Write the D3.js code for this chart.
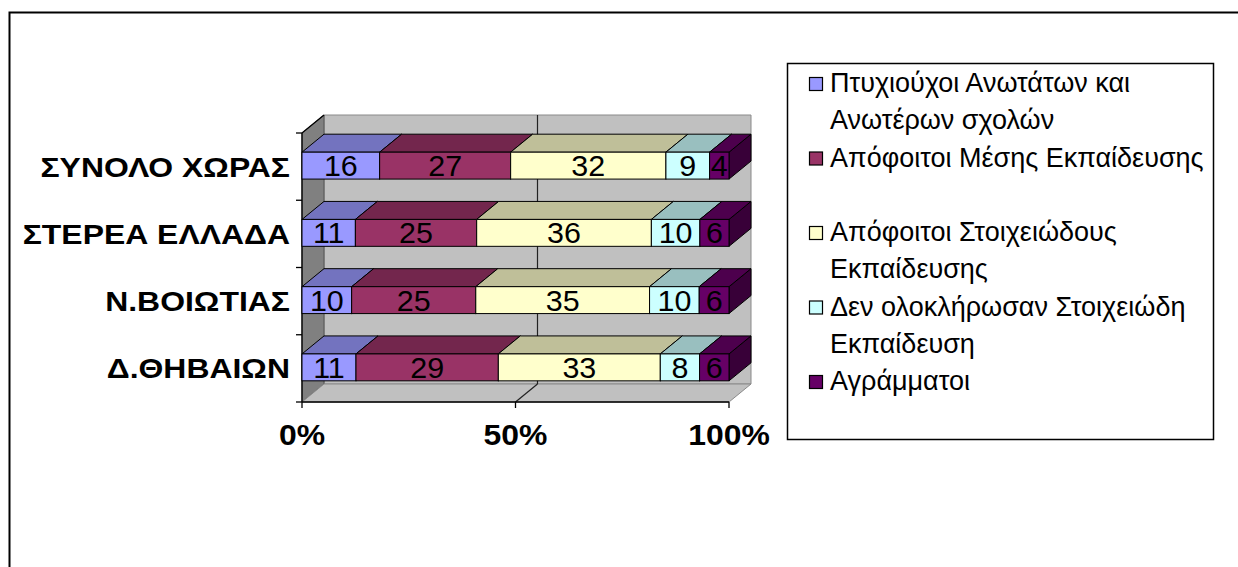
<!DOCTYPE html>
<html>
<head>
<meta charset="utf-8">
<script src="https://cdn.jsdelivr.net/npm/d3@7"></script>
<style>
  body { margin: 0; background: #fff; }
  svg { display: block; }
  text { font-family: Arial, "Liberation Sans", sans-serif; fill: #000; }
</style>
</head>
<body>
<svg id="chart" width="1238" height="567"></svg>
<script>
// data
const categories = ["ΣΥΝΟΛΟ ΧΩΡΑΣ", "ΣΤΕΡΕΑ ΕΛΛΑΔΑ", "Ν.ΒΟΙΩΤΙΑΣ", "Δ.ΘΗΒΑΙΩΝ"];
const seriesNames = [
    "Πτυχιούχοι Ανωτάτων και Ανωτέρων σχολών",
    "Απόφοιτοι Μέσης Εκπαίδευσης",
    "Απόφοιτοι Στοιχειώδους Εκπαίδευσης",
    "Δεν ολοκλήρωσαν Στοιχειώδη Εκπαίδευση",
    "Αγράμματοι"
];
const graduates  = [16, 11, 10, 11];
const secondary  = [27, 25, 25, 29];
const primary    = [32, 36, 35, 33];
const incomplete = [9, 10, 10, 8];
const illiterate = [4, 6, 6, 6];
const xTicks = [0, 0.5, 1];
const xTickLabels = ["0%", "50%", "100%"];

const seriesValues = [graduates, secondary, primary, incomplete, illiterate];
const colors = ["#9999ff", "#993366", "#ffffcc", "#ccffff", "#660066"];

const svg = d3.select("#chart");

// outer frame
svg.append("rect")
    .attr("x", 9.5).attr("y", 12.5)
    .attr("width", 1400).attr("height", 700)
    .attr("fill", "none").attr("stroke", "#000").attr("stroke-width", 2);

// 3d depth offset
const dx = 22, dy = -18;

const x = d3.scaleLinear().domain([0, 1]).range([302, 729]);
const y = d3.scaleBand().domain(categories).range([133, 402])
    .paddingInner(0.6).paddingOuter(0.3);

const [x0, x1] = x.range();
const [y0, y1] = y.range();
const pts = a => a.map(p => p.join(",")).join(" ");

// walls and floor
svg.append("polygon")
    .attr("points", pts([[x0 + dx, y0 + dy], [x1 + dx, y0 + dy], [x1 + dx, y1 + dy], [x0 + dx, y1 + dy]]))
    .attr("fill", "#c0c0c0").attr("stroke", "#8a8a8a");
svg.append("polygon")
    .attr("points", pts([[x0, y0], [x0 + dx, y0 + dy], [x0 + dx, y1 + dy], [x0, y1]]))
    .attr("fill", "#808080").attr("stroke", "#555");
svg.append("polygon")
    .attr("points", pts([[x0, y1], [x1, y1], [x1 + dx, y1 + dy], [x0 + dx, y1 + dy]]))
    .attr("fill", "#c0c0c0").attr("stroke", "#8a8a8a");

// gridlines (inner ticks only)
const grid = svg.append("g").attr("stroke", "#222").attr("stroke-width", 1.2);
xTicks.filter(t => t > 0 && t < 1).forEach(t => {
    grid.append("line")
        .attr("x1", x(t) + dx).attr("x2", x(t) + dx)
        .attr("y1", y0 + dy).attr("y2", y1 + dy);
    grid.append("line")
        .attr("x1", x(t)).attr("x2", x(t) + dx)
        .attr("y1", y1).attr("y2", y1 + dy);
});

// axes
const axes = svg.append("g").attr("stroke", "#000").attr("stroke-width", 1.3);
axes.append("line").attr("x1", x0).attr("x2", x0).attr("y1", y0).attr("y2", y1);
axes.append("line").attr("x1", x0).attr("x2", x0 + dx).attr("y1", y0).attr("y2", y0 + dy);
axes.append("line").attr("x1", x0).attr("x2", x1).attr("y1", y1).attr("y2", y1);
d3.range(categories.length + 1).forEach(i => {
    const yy = y0 + i * (y1 - y0) / categories.length;
    axes.append("line").attr("x1", x0 - 6).attr("x2", x0).attr("y1", yy).attr("y2", yy);
});
xTicks.forEach(t => {
    axes.append("line").attr("x1", x(t)).attr("x2", x(t)).attr("y1", y1).attr("y2", y1 + 6);
});

// stacked 100% bars
const rows = categories.map((c, i) => ({ cat: c, values: seriesValues.map(s => s[i]) }));
const stack = d3.stack()
    .keys(d3.range(seriesValues.length))
    .value((d, k) => d.values[k])
    .offset(d3.stackOffsetExpand);
const layers = stack(rows);

const bw = y.bandwidth();
categories.forEach((c, i) => {
    const g = svg.append("g");
    const yt = y(c) - 1, yb = yt + bw;
    layers.forEach((layer, k) => {
        const seg = layer[i];
        const xa = x(seg[0]), xb = x(seg[1]);
        const base = d3.rgb(colors[k]);
        const top = d3.rgb(base.r * 0.75, base.g * 0.75, base.b * 0.75);
        const side = d3.rgb(base.r * 0.55, base.g * 0.55, base.b * 0.55);
        g.append("polygon")
            .attr("points", pts([[xb, yt], [xb + dx, yt + dy], [xb + dx, yb + dy], [xb, yb]]))
            .attr("fill", side).attr("stroke", "#000").attr("stroke-width", 1);
        g.append("polygon")
            .attr("points", pts([[xa, yt], [xb, yt], [xb + dx, yt + dy], [xa + dx, yt + dy]]))
            .attr("fill", top).attr("stroke", "#000").attr("stroke-width", 1);
        g.append("rect")
            .attr("x", xa).attr("y", yt)
            .attr("width", xb - xa).attr("height", bw)
            .attr("fill", base).attr("stroke", "#000").attr("stroke-width", 1);
        g.append("text")
            .attr("transform", `translate(${(xa + xb) / 2},${yt + bw / 2 + 10.5}) scale(1.05,1)`)
            .attr("text-anchor", "middle")
            .style("font-size", "29px")
            .text(rows[i].values[k]);
    });
});

// category labels (the source font is a little wider than Arial)
svg.append("g").selectAll("text")
    .data(categories)
    .join("text")
    .attr("transform", d => `translate(290,${y(d) + bw / 2 + 10}) scale(1.12,1)`)
    .attr("text-anchor", "end")
    .style("font-size", "28.5px").style("font-weight", "bold")
    .text(d => d);

// x tick labels
svg.append("g").selectAll("text")
    .data(xTicks)
    .join("text")
    .attr("transform", d => `translate(${x(d)},445) scale(1.1,1)`)
    .attr("text-anchor", "middle")
    .style("font-size", "29px").style("font-weight", "bold")
    .text((d, i) => xTickLabels[i]);

// legend
const legend = svg.append("g");
legend.append("rect")
    .attr("x", 787.5).attr("y", 63.5).attr("width", 426).attr("height", 376)
    .attr("fill", "#fff").attr("stroke", "#000").attr("stroke-width", 1.5);

const ly = d3.scalePoint().domain(d3.range(seriesNames.length)).range([92, 390]);
seriesNames.forEach((name, k) => {
    const base = ly(k);
    legend.append("rect")
        .attr("x", 809.5).attr("y", base - 14.5).attr("width", 13).attr("height", 13)
        .attr("fill", colors[k]).attr("stroke", "#000").attr("stroke-width", 1.2);
    const t = legend.append("text")
        .attr("x", 830).attr("y", base)
        .style("font-size", "27px");
    // simple word wrap
    const words = name.split(" ");
    let line = [], tspan = t.append("tspan").attr("x", 830).attr("dy", 0);
    words.forEach(w => {
        line.push(w);
        tspan.text(line.join(" "));
        if (tspan.node().getComputedTextLength() > 376 && line.length > 1) {
            line.pop();
            tspan.text(line.join(" "));
            line = [w];
            tspan = t.append("tspan").attr("x", 830).attr("dy", 37).text(w);
        }
    });
});
</script>
</body>
</html>
